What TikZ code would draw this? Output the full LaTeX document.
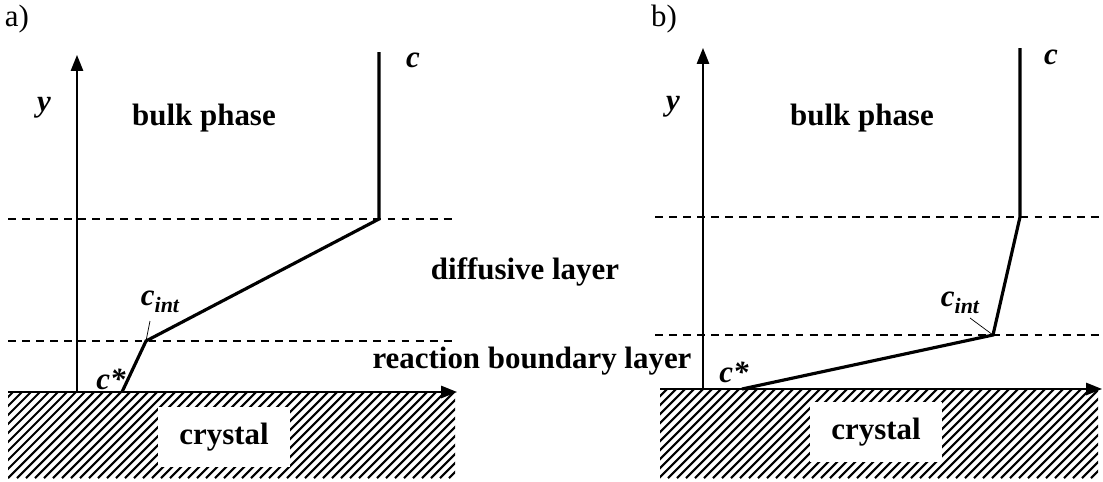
\documentclass[tikz,border=0pt]{standalone}
\usepackage{fontspec}
\setmainfont{Liberation Serif}
\usetikzlibrary{arrows.meta, positioning}
\tikzset{
  axis/.style={line width=0.9pt, -{Triangle[length=9pt, width=7pt]}},
  profile/.style={line width=1.8pt, line join=miter},
  level/.style={line width=0.8pt, dash pattern=on 4.5pt off 3.5pt},
  hatch/.style={line width=1.2pt},
  pointer/.style={line width=0.4pt},
  region/.style={font=\fontsize{17.6}{20}\selectfont\bfseries, inner sep=1pt},
  var/.style={font=\fontsize{17.6}{20}\selectfont\bfseries\itshape, inner sep=1pt},
  panel/.style={font=\fontsize{17.6}{20}\selectfont, inner sep=1pt},
  crys/.style={
    rectangle, fill=white, minimum width=2.66cm, minimum height=1.2cm,
    font=\fontsize{17.6}{20}\selectfont\bfseries
  }
}
\newcommand{\cint}{c\raisebox{-0.5ex}{\fontsize{12.5}{13}\selectfont int}}
\begin{document}
\begin{tikzpicture}[x=0.02cm, y=-0.02cm]
\useasboundingbox (0,0) rectangle (1103,481);

% ---- panel a ----
\node[panel] (labA) at (17,19) {a)};

% hatched crystal
\begin{scope}
  \clip (8,392) rectangle (455,478);
  \foreach \i in {-100,-91,...,460}
    \draw[hatch] (\i,478) -- ++(90,-90);
\end{scope}
\node[crys] (crysA) at (224,437) {crystal};

% layer boundaries
\coordinate (topA1) at (8,219);
\coordinate (topA2) at (455,219);
\coordinate (botA1) at (8,341);
\coordinate (botA2) at (455,341);
\draw[level] (topA1) -- (topA2);
\draw[level] (botA1) -- (botA2);

% axes
\coordinate (oA) at (77,392);
\coordinate (yA) at (77,55);
\coordinate (xA0) at (8,392);
\coordinate (xA) at (457,392);
\draw[axis] (oA) -- (yA);
\draw[axis] (xA0) -- (xA);

% concentration profile
\coordinate (cA0) at (379,52);
\coordinate (cA1) at (379,219);
\coordinate (cA2) at (146,341);
\coordinate (cA3) at (122,392);
\draw[profile] (cA0) -- (cA1) -- (cA2) -- (cA3);

\node[var] (yLabA) at (44,108) {y};
\node[var] (cLabA) at (413,60) {c};
\node[region] (bulkA) at (204,118) {bulk phase};
\node[var] (cintA) at (160,302) {\cint};
\node[var] (cstarA) at (111,379) {c*};
\coordinate (pA) at (150,321);
\draw[pointer] (pA) -- (cA2);

% ---- middle labels ----
\node[region] (diff) at (525,272) {diffusive layer};
\node[region] (react) at (532,361) {reaction boundary layer};

% ---- panel b ----
\node[panel] (labB) at (664,19) {b)};

\begin{scope}
  \clip (660,389) rectangle (1098,478);
  \foreach \i in {560,569,...,1110}
    \draw[hatch] (\i,478) -- ++(90,-90);
\end{scope}
\node[crys] (crysB) at (876,432) {crystal};

\coordinate (topB1) at (655,217);
\coordinate (topB2) at (1100,217);
\coordinate (botB1) at (655,335);
\coordinate (botB2) at (1100,335);
\draw[level] (topB1) -- (topB2);
\draw[level] (botB1) -- (botB2);

\coordinate (oB) at (703,389);
\coordinate (yB) at (703,48);
\coordinate (xB0) at (660,389);
\coordinate (xB) at (1102,389);
\draw[axis] (oB) -- (yB);
\draw[axis] (xB0) -- (xB);

\coordinate (cB0) at (1020,48);
\coordinate (cB1) at (1020,217);
\coordinate (cB2) at (993,335);
\coordinate (cB3) at (742,389);
\draw[profile] (cB0) -- (cB1) -- (cB2) -- (cB3);

\node[var] (yLabB) at (673,107) {y};
\node[var] (cLabB) at (1051,57) {c};
\node[region] (bulkB) at (862,118) {bulk phase};
\node[var] (cintB) at (960,303) {\cint};
\node[var] (cstarB) at (734,372) {c*};
\coordinate (pB) at (970,318);
\draw[pointer] (pB) -- (cB2);

\end{tikzpicture}
\end{document}
